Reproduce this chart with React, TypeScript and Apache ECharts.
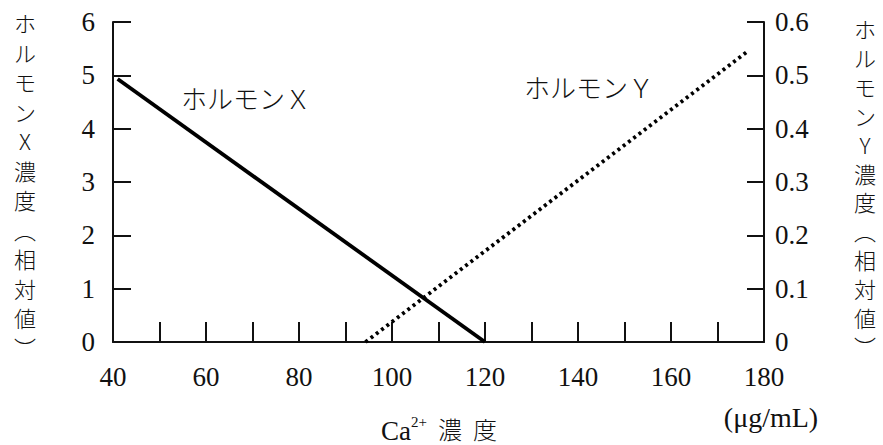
import React, { useEffect, useRef } from "react";
import * as echarts from "echarts";

// ---- data ----
const X_MIN = 40;
const X_MAX = 180;
const X_STEP = 20;
const LEFT_MAX = 6;
const LEFT_STEP = 1;
const RIGHT_MAX = 0.6;
const RIGHT_STEP = 0.1;

// Hormone X (left axis) : [Ca2+ concentration, relative value]
const hormoneX: [number, number][] = [
  [41, 4.93],
  [120, 0],
];
// Hormone Y (right axis)
const hormoneY: [number, number][] = [
  [94.3, 0],
  [176.5, 0.545],
];

const seriesNames = ["ホルモンＸ", "ホルモンＹ"];
const leftName = ["ホ", "ル", "モ", "ン", "X", "濃", "度", "︵", "相", "対", "値", "︶"];
const rightName = ["ホ", "ル", "モ", "ン", "Y", "濃", "度", "︵", "相", "対", "値", "︶"];

const SERIF = "Liberation Serif";
const CJK = "Noto Sans CJK JP";

function txt(x: number, y: number, text: string, size: number, family: string, align = "center", weight: any = "normal") {
  return {
    type: "text",
    x,
    y,
    style: {
      text,
      fontSize: size,
      fontFamily: family,
      fontWeight: weight,
      fill: "#111",
      textAlign: align,
      textVerticalAlign: "middle",
    },
  };
}

const richNum = { n: { fontFamily: SERIF, fontSize: 27, color: "#111" } };

export default function App() {
  const ref = useRef<HTMLDivElement>(null);

  useEffect(() => {
    document.body.style.margin = "0";
    if (!ref.current) return;
    const chart = echarts.init(ref.current, null, { renderer: "svg" });

    const axisLine = { show: true, lineStyle: { color: "#111", width: 2 } };
    const tickStyle = { color: "#111", width: 2 };
    const labelBase = { fontFamily: SERIF, fontSize: 27, color: "#111", rich: richNum };

    const graphic: any[] = [];
    leftName.forEach((ch, i) => graphic.push(txt(25, 22 + 29.5 * i, ch, 22, CJK, "center", 300)));
    rightName.forEach((ch, i) => graphic.push(txt(865, 28 + 28.9 * i, ch, 22, CJK, "center", 300)));
    graphic.push(
      txt(181, 97, seriesNames[0], 26, CJK, "left", 300),
      txt(524, 86, seriesNames[1], 26, CJK, "left", 300),
      txt(381, 431, "Ca", 27, SERIF, "left"),
      txt(411, 422, "2+", 15, SERIF, "left"),
      txt(450, 428, "濃", 24, CJK, "center", 300),
      txt(485, 428, "度", 24, CJK, "center", 300),
      txt(771, 417, "(μg/mL)", 28, SERIF)
    );

    chart.setOption({
      animation: false,
      backgroundColor: "#fff",
      textStyle: { fontFamily: SERIF },
      grid: { left: 113, right: 119, top: 22, bottom: 103, containLabel: false, outerBoundsMode: "none" },
      xAxis: {
        type: "value",
        min: X_MIN,
        max: X_MAX,
        interval: X_STEP,
        axisLine,
        axisTick: { show: true, inside: true, length: 20, lineStyle: tickStyle },
        minorTick: { show: true, splitNumber: 2, length: 20, lineStyle: tickStyle },
        splitLine: { show: false },
        axisLabel: { ...labelBase, margin: 21, formatter: (v: number) => `{n|${v}}` },
      },
      yAxis: [
        {
          type: "value",
          position: "left",
          min: 0,
          max: LEFT_MAX,
          interval: LEFT_STEP,
          axisLine,
          axisTick: { show: true, inside: true, length: 18, lineStyle: tickStyle },
          splitLine: { show: false },
          axisLabel: { ...labelBase, margin: 18, formatter: (v: number) => `{n|${v}}` },
        },
        {
          type: "value",
          position: "right",
          min: 0,
          max: RIGHT_MAX,
          interval: RIGHT_STEP,
          axisLine,
          axisTick: { show: true, inside: true, length: 17, lineStyle: tickStyle },
          splitLine: { show: false },
          axisLabel: {
            ...labelBase,
            margin: 11,
            formatter: (v: number) => `{n|${v === 0 ? "0" : v.toFixed(1)}}`,
          },
        },
      ],
      series: [
        {
          name: seriesNames[0],
          type: "line",
          yAxisIndex: 0,
          data: hormoneX,
          symbol: "none",
          lineStyle: { color: "#000", width: 3.8 },
          z: 3,
        },
        {
          name: seriesNames[1],
          type: "line",
          yAxisIndex: 1,
          data: hormoneY,
          symbol: "none",
          lineStyle: { color: "#000", width: 3.8, type: [3, 3.6], cap: "butt" },
          z: 3,
        },
      ],
      graphic,
    });

    return () => chart.dispose();
  }, []);

  return <div ref={ref} style={{ width: 883, height: 445 }} />;
}
